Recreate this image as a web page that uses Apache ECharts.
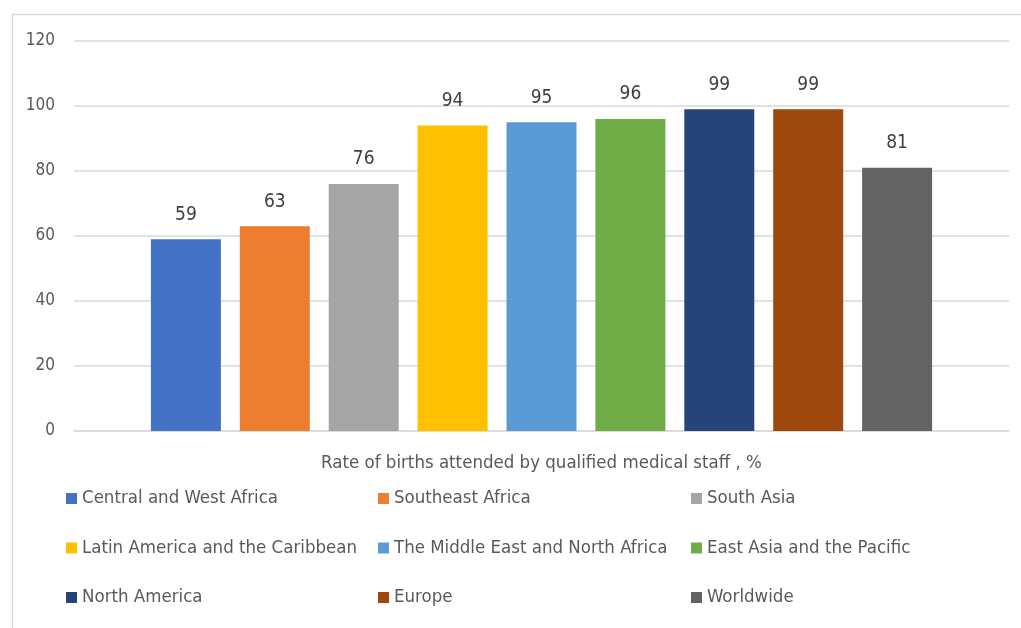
<!DOCTYPE html>
<html>
<head>
<meta charset="utf-8">
<script src="https://cdn.jsdelivr.net/npm/echarts@6/dist/echarts.min.js"></script>
<style>
  html, body { margin: 0; padding: 0; background: #fff; }
  #chart { width: 1021px; height: 628px; }
</style>
</head>
<body>
<div id="chart"></div>
<script>
// Share of births attended by qualified medical staff, by region (%)
const regions = [
  'Central and West Africa', 'Southeast Africa', 'South Asia',
  'Latin America and the Caribbean', 'The Middle East and North Africa', 'East Asia and the Pacific',
  'North America', 'Europe', 'Worldwide'
];
const rates = [59, 63, 76, 94, 95, 96, 99, 99, 81];
const regionColors = ['#4472C4', '#ED7D31', '#A5A5A5', '#FFC000', '#5B9BD5', '#70AD47', '#264478', '#9E480E', '#636363'];
const axisTitle = ['Rate of births attended by qualified medical staff , %'];
const yTicks = { min: 0, max: 120, interval: 20 };

const FONT = "'DejaVu Sans Condensed', 'DejaVu Sans', sans-serif";
const chart = echarts.init(document.getElementById('chart'));

const series = regions.map((name, i) => ({
  name: name,
  type: 'bar',
  data: [rates[i]],
  barWidth: 70,
  barGap: '27%',
  itemStyle: { color: regionColors[i] },
  label: {
    show: true,
    position: 'top',
    distance: 15,
    color: '#404040',
    fontFamily: FONT,
    fontSize: 19
  }
}));

// three legend columns, three rows each
const legendCols = [[0, 3, 6], [1, 4, 7], [2, 5, 8]];
const legendLeft = [61, 373, 686];
const legends = legendCols.map((idx, c) => ({
  orient: 'vertical',
  left: legendLeft[c],
  top: 484,
  itemWidth: 11,
  itemHeight: 11,
  itemGap: 30.5,
  icon: 'rect',
  selectedMode: false,
  data: idx.map(i => regions[i]),
  textStyle: { color: '#595959', fontFamily: FONT, fontSize: 18.5 }
}));

chart.setOption({
  backgroundColor: '#fff',
  animation: false,
  graphic: [{
    type: 'rect',
    left: 10, top: 12,
    shape: { width: 1100, height: 700 },
    style: { fill: 'none', stroke: '#d9d9d9', lineWidth: 1.5 },
    silent: true
  }],
  grid: { left: 74, right: 12, top: 41, bottom: 197 },
  legend: legends,
  xAxis: {
    type: 'category',
    data: [''],
    name: axisTitle[0],
    nameLocation: 'middle',
    nameGap: 23,
    nameTextStyle: { color: '#595959', fontFamily: FONT, fontSize: 18.5 },
    axisLine: { show: true, lineStyle: { color: '#d9d9d9', width: 1.5 } },
    axisTick: { show: false },
    axisLabel: { show: false }
  },
  yAxis: {
    type: 'value',
    min: yTicks.min, max: yTicks.max, interval: yTicks.interval,
    axisLine: { show: false },
    axisTick: { show: false },
    splitLine: { lineStyle: { color: '#d9d9d9', width: 1.5 } },
    axisLabel: { color: '#595959', fontFamily: FONT, fontSize: 17, margin: 19 }
  },
  series: series
});
</script>
</body>
</html>
